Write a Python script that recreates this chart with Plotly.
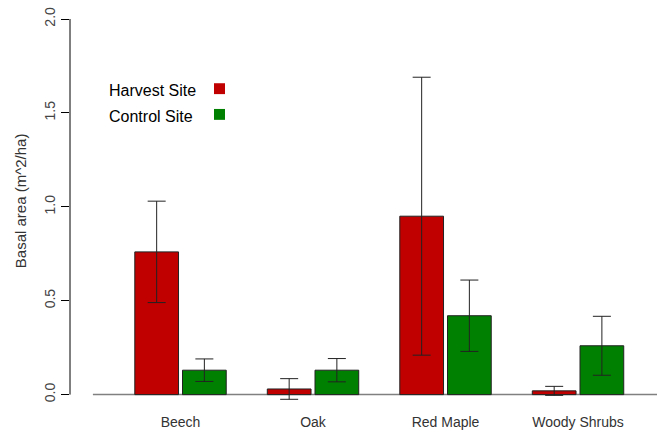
import plotly.graph_objects as go

# Basal area by species group at the two sites
species = ["Beech", "Oak", "Red Maple", "Woody Shrubs"]
series_names = ["Harvest Site", "Control Site"]
harvest_mean = [0.76, 0.03, 0.95, 0.02]
harvest_err = [0.27, 0.055, 0.74, 0.024]
control_mean = [0.13, 0.13, 0.42, 0.26]
control_err = [0.06, 0.062, 0.19, 0.157]
y_ticks = [0.0, 0.5, 1.0, 1.5, 2.0]

red = "#C00000"
green = "#008000"
font_family = "Liberation Sans, Arial, sans-serif"

bar_w = 0.33

fig = go.Figure()
fig.add_trace(go.Bar(
    x=species, y=harvest_mean, name=series_names[0],
    width=bar_w, offset=-0.345,
    marker=dict(color=red, line=dict(color="#222222", width=1)),
    error_y=dict(type="data", array=harvest_err, color="#222222", thickness=1, width=9),
    showlegend=False,
))
fig.add_trace(go.Bar(
    x=species, y=control_mean, name=series_names[1],
    width=bar_w, offset=0.015,
    marker=dict(color=green, line=dict(color="#222222", width=1)),
    error_y=dict(type="data", array=control_err, color="#222222", thickness=1, width=9),
    showlegend=False,
))

# horizontal baseline at zero
fig.add_shape(type="line", xref="paper", yref="y", x0=0.039, x1=1, y0=0, y1=0,
              line=dict(color="#808080", width=1.5), layer="below")
# left axis spine spanning only the tick range
fig.add_shape(type="line", xref="paper", yref="y", x0=0, x1=0, y0=y_ticks[0], y1=y_ticks[-1],
              line=dict(color="#000000", width=1))

# y-axis title, centred on the tick range
fig.add_annotation(x=-50 / 587, y=1.03, xref="paper", yref="y",
                   text="Basal area (m^2/ha)", showarrow=False, textangle=-90,
                   xanchor="center", yanchor="middle",
                   font=dict(family=font_family, size=15, color="#333333"))

# legend: left-aligned labels with colored squares to their right
for label, color, y_text, y_box in [(series_names[0], red, 1.618, 1.629),
                                    (series_names[1], green, 1.482, 1.492)]:
    fig.add_annotation(x=(107 - 70) / 587, y=y_text, xref="paper", yref="y",
                       text=label, showarrow=False, xanchor="left", yanchor="middle",
                       font=dict(family=font_family, size=16, color="#000000"))
    fig.add_shape(type="rect", xref="paper", yref="y",
                  x0=(214 - 70) / 587, x1=(225 - 70) / 587,
                  y0=y_box - 0.029, y1=y_box + 0.029,
                  fillcolor=color, line=dict(width=0))

fig.update_layout(
    width=657, height=433,
    margin=dict(l=70, r=0, t=19, b=29),
    paper_bgcolor="white", plot_bgcolor="white",
    barmode="overlay",
    font=dict(family=font_family, color="#333333"),
    xaxis=dict(
        type="category", range=[-0.834, 3.596],
        showgrid=False, zeroline=False, showline=False,
        ticks="outside", ticklen=5, tickcolor="rgba(0,0,0,0)",
        tickfont=dict(size=14, color="#333333"),
    ),
    yaxis=dict(
        range=[-0.05, 2.0], tickvals=y_ticks,
        ticktext=[f"{v:.1f}" for v in y_ticks],
        showgrid=False, zeroline=False, showline=False,
        ticks="outside", ticklen=8, tickcolor="#000000",
        tickangle=-90, tickfont=dict(size=14, color="#444444"),
    ),
)

fig.write_html("out.html")
